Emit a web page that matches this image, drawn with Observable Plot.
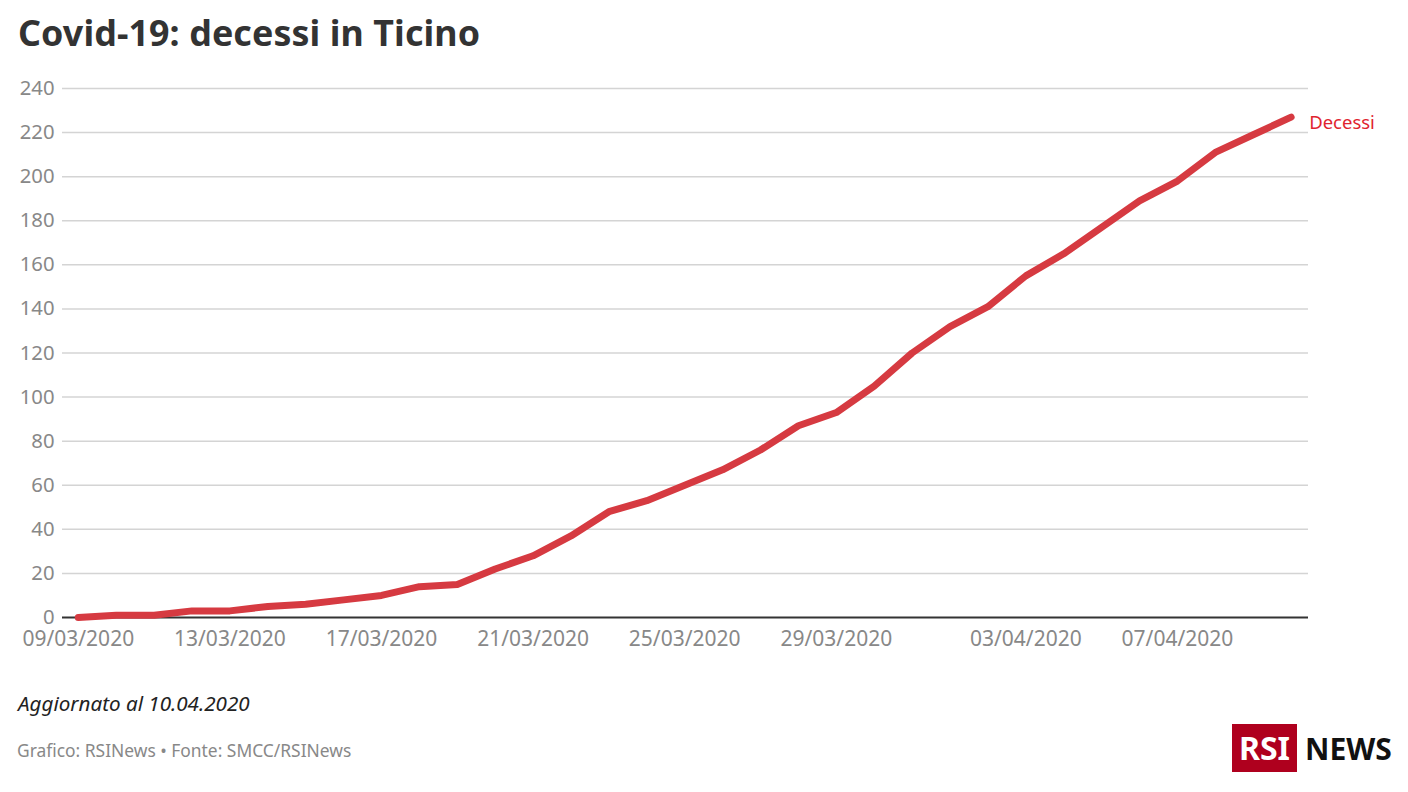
<!DOCTYPE html>
<html lang="it">
<head>
<meta charset="utf-8">
<title>Covid-19: decessi in Ticino</title>
<script src="https://cdn.jsdelivr.net/npm/d3@7"></script>
<script src="https://cdn.jsdelivr.net/npm/@observablehq/plot@0.6"></script>
<style>
  html, body { margin: 0; padding: 0; background: #fff; width: 1408px; height: 792px; overflow: hidden; }
  body { position: relative; font-family: "Noto Sans", sans-serif; }
  h1 { position: absolute; left: 18px; top: 9px; margin: 0; font-size: 35.8px; line-height: 46px; font-weight: 700; color: #333; letter-spacing: 0.1px; white-space: nowrap; }
  #chart { position: absolute; left: 0; top: 69.5px; }
  #updated { position: absolute; left: 18px; top: 690px; font-size: 20.6px; line-height: 26px; font-style: italic; color: #222; white-space: nowrap; }
  #source { position: absolute; left: 17px; top: 738px; font-size: 17.4px; line-height: 24px; color: #888; white-space: nowrap; }
  #logo { position: absolute; left: 1232px; top: 724px; width: 65px; height: 48px; background: #af001e; color: #fff; font-weight: 700; font-size: 32px; line-height: 48px; text-align: center; }
  #news { position: absolute; left: 1305px; top: 724px; height: 48px; color: #111; font-weight: 700; font-size: 30px; line-height: 50px; white-space: nowrap; }
</style>
</head>
<body>
<h1>Covid-19: decessi in Ticino</h1>
<div id="chart"></div>
<div id="updated">Aggiornato al 10.04.2020</div>
<div id="source">Grafico: RSINews • Fonte: SMCC/RSINews</div>
<div id="logo">RSI</div>
<div id="news">NEWS</div>
<script>
const dayLabels = [
  "09/03/2020","10/03/2020","11/03/2020","12/03/2020","13/03/2020","14/03/2020","15/03/2020",
  "16/03/2020","17/03/2020","18/03/2020","19/03/2020","20/03/2020","21/03/2020","22/03/2020",
  "23/03/2020","24/03/2020","25/03/2020","26/03/2020","27/03/2020","28/03/2020","29/03/2020",
  "30/03/2020","31/03/2020","01/04/2020","02/04/2020","03/04/2020","04/04/2020","05/04/2020",
  "06/04/2020","07/04/2020","08/04/2020","09/04/2020","10/04/2020"
];
const deaths = [
  0, 1, 1, 3, 3, 5, 6,
  8, 10, 14, 15, 22, 28, 37,
  48, 53, 60, 67, 76, 87, 93,
  105, 120, 132, 141, 155, 165, 177,
  189, 198, 211, 219, 227
];
const xTickLabels = ["09/03/2020","13/03/2020","17/03/2020","21/03/2020","25/03/2020","29/03/2020","03/04/2020","07/04/2020"];
const yTicks = [0,20,40,60,80,100,120,140,160,180,200,220,240];
const seriesName = "Decessi";

const parseDay = d3.utcParse("%d/%m/%Y");
const formatDay = d3.utcFormat("%d/%m/%Y");
const rows = dayLabels.map((d, i) => ({date: parseDay(d), value: deaths[i]}));
const last = rows[rows.length - 1];
const xDomain = [d3.utcHour.offset(rows[0].date, -10), d3.utcHour.offset(last.date, 11)];

const plot = Plot.plot({
  width: 1408,
  height: 590,
  marginLeft: 62,
  marginRight: 100,
  marginTop: 18,
  marginBottom: 43,
  style: {background: "#fff", fontFamily: "'Noto Sans', sans-serif", overflow: "visible"},
  x: {type: "utc", domain: xDomain},
  y: {domain: [0, 240]},
  marks: [
    Plot.ruleY(yTicks.filter(d => d > 0), {stroke: "#d4d4d4", strokeWidth: 1.5}),
    Plot.ruleY([0], {stroke: "#333", strokeWidth: 2}),
    Plot.axisY({ticks: yTicks, tickSize: 0, tickPadding: 8, label: null, fontSize: 20.3, fill: "#888"}),
    Plot.axisX({ticks: xTickLabels.map(parseDay), tickFormat: formatDay, tickSize: 0, tickPadding: 14, label: null, fontSize: 21, fill: "#888"}),
    Plot.line(rows, {x: "date", y: "value", stroke: "#d63a41", strokeWidth: 7, strokeLinecap: "round", strokeLinejoin: "round"}),
    Plot.text([last], {x: "date", y: "value", text: () => seriesName, fill: "#e0242f", fontSize: 18.5, textAnchor: "start", dx: 18, dy: 6})
  ]
});
document.getElementById("chart").appendChild(plot);
</script>
</body>
</html>
